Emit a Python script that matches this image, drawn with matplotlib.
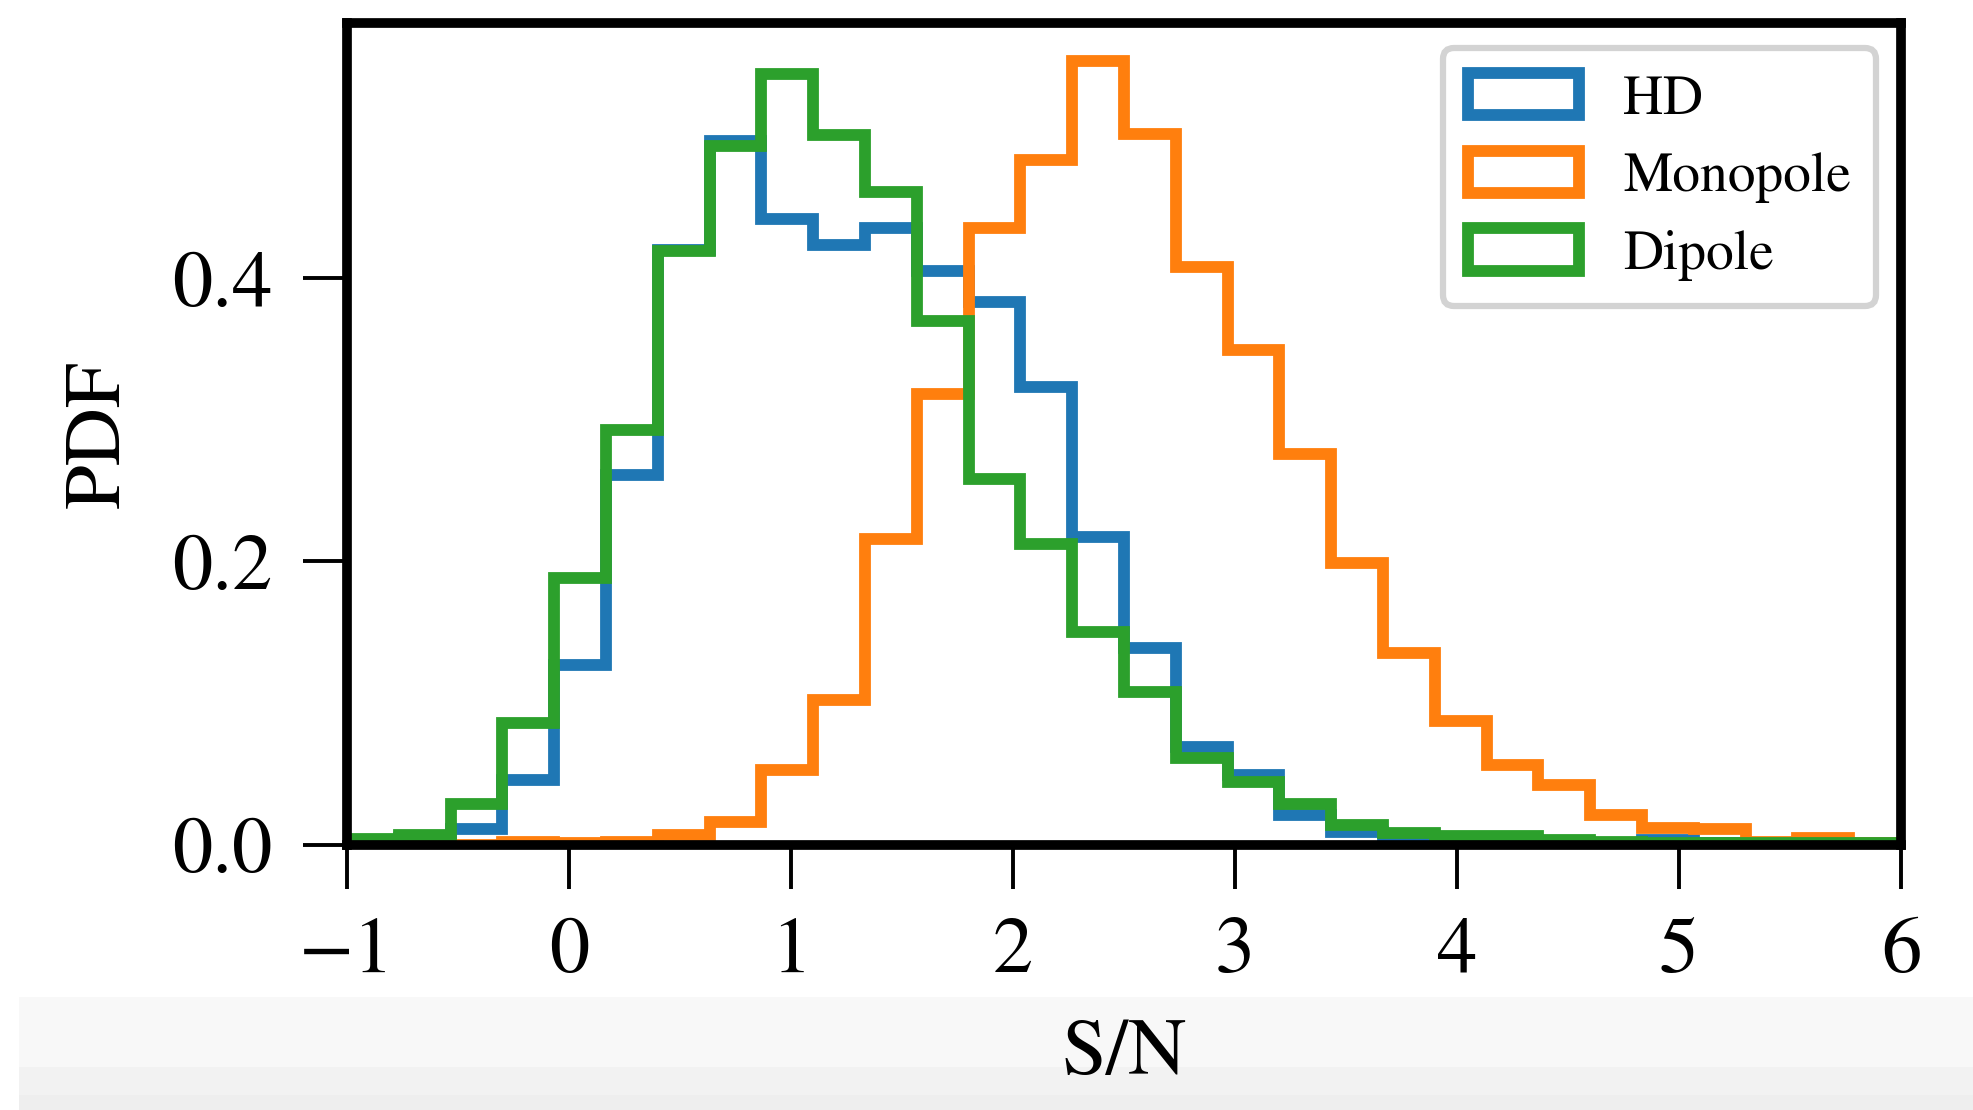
import numpy as np
import matplotlib
matplotlib.use("Agg")
import matplotlib.pyplot as plt
from matplotlib.patches import Rectangle

plt.rcParams['font.family'] = ['STIXGeneral', 'DejaVu Serif']
plt.rcParams['mathtext.fontset'] = 'stix'

# ---- data (PDF values per bin) ----
bin_lo, bin_hi, n_bins = -1.0, 6.0, 30
series_names = ["HD", "Monopole", "Dipole"]
series_colors = ["#1f77b4", "#ff7f0e", "#2ca02c"]

hd_pdf = [0.002, 0.005, 0.011, 0.046, 0.127, 0.261, 0.420, 0.497, 0.442, 0.423,
          0.435, 0.405, 0.383, 0.323, 0.217, 0.139, 0.069, 0.049, 0.021, 0.009,
          0.004, 0.002, 0.002, 0.001, 0.001, 0.003, 0.001, 0.0, 0.0, 0.0]
monopole_pdf = [0.0, 0.0, 0.0, 0.002, 0.001, 0.002, 0.007, 0.016, 0.053, 0.102,
                0.216, 0.318, 0.435, 0.483, 0.553, 0.502, 0.408, 0.349, 0.276, 0.199,
                0.135, 0.087, 0.056, 0.042, 0.021, 0.012, 0.011, 0.002, 0.005, 0.001]
dipole_pdf = [0.004, 0.007, 0.029, 0.086, 0.188, 0.293, 0.419, 0.493, 0.544, 0.501,
              0.461, 0.370, 0.258, 0.212, 0.150, 0.108, 0.061, 0.044, 0.029, 0.014,
              0.008, 0.006, 0.006, 0.003, 0.002, 0.001, 0.001, 0.001, 0.001, 0.001]

xticks = [-1, 0, 1, 2, 3, 4, 5, 6]
yticks = [0.0, 0.2, 0.4]

edges = np.linspace(bin_lo, bin_hi, n_bins + 1)
centers = 0.5 * (edges[:-1] + edges[1:])

fig = plt.figure(figsize=(19.73, 11.1), dpi=100)

# light gray band at the bottom of the image
band_specs = [((19 / 1973, 0.0), 1.0, 15 / 1110, "#eeeeee"),
              ((19 / 1973, 15 / 1110), 1.0, 28 / 1110, "#f2f2f2"),
              ((19 / 1973, 43 / 1110), 1.0, 70 / 1110, "#f8f8f8")]
for xy, w, h, c in band_specs:
    fig.patches.append(Rectangle(xy, w, h, transform=fig.transFigure,
                                 facecolor=c, edgecolor="none", zorder=-10))

ax = fig.add_axes([347 / 1973, 265.3 / 1110, (1901 - 347) / 1973, (844.7 - 23) / 1110])
ax.patch.set_facecolor("white")

for name, vals, col in zip(series_names, [hd_pdf, monopole_pdf, dipole_pdf], series_colors):
    ax.hist(centers, bins=edges, weights=vals, histtype="step",
            color=col, linewidth=8.5, label=name)

ax.set_xlim(bin_lo, bin_hi)
ax.set_ylim(0, 0.58)
ax.set_xticks(xticks)
ax.set_yticks(yticks)
ax.set_yticklabels([f"{v:.1f}" for v in yticks])

for s in ax.spines.values():
    s.set_linewidth(7)
ax.tick_params(axis="both", direction="out", length=32, width=2.8,
               labelsize=58)
ax.tick_params(axis="y", pad=22)
ax.tick_params(axis="x", pad=20)

ax.set_xlabel("S/N", fontsize=58, labelpad=22)
ax.set_ylabel("PDF", fontsize=58, labelpad=26)

leg = ax.legend(loc="upper right", fontsize=40, frameon=True, fancybox=True,
                borderaxespad=0.45, handlelength=2.0, handleheight=0.8,
                handletextpad=0.8, labelspacing=0.45, borderpad=0.45)
frame = leg.get_frame()
frame.set_edgecolor("#d3d3d3")
frame.set_linewidth(4.5)
frame.set_alpha(1.0)
frame.set_facecolor("white")

fig.savefig("out.png", dpi=100)
